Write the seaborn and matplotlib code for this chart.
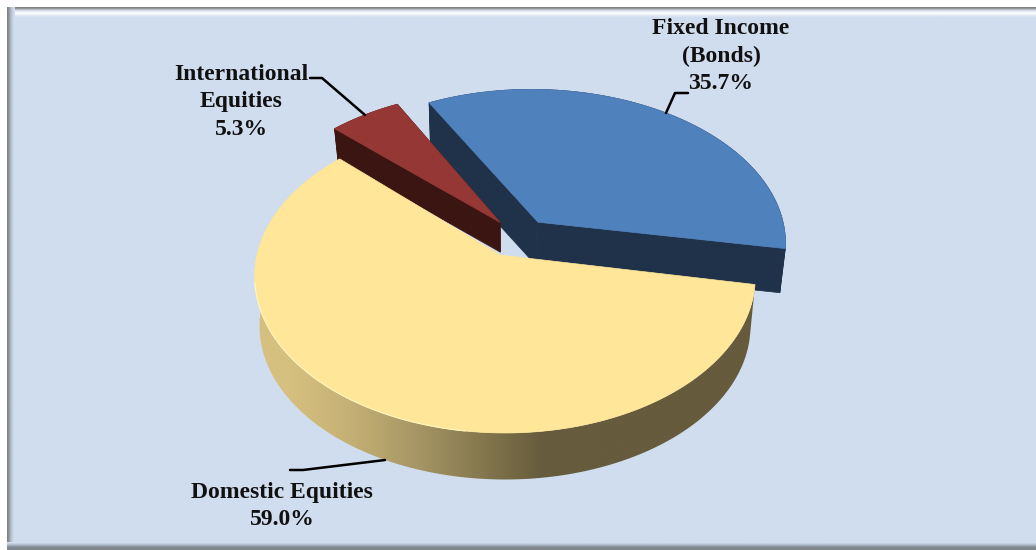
import numpy as np
import matplotlib
matplotlib.use('Agg')
import matplotlib.pyplot as plt
import seaborn as sns
from matplotlib.patches import Polygon

# data
categories = ['Fixed Income\n(Bonds)', 'International\nEquities', 'Domestic Equities']
values = [35.7, 5.3, 59.0]

top_colors = ['#4F81BD', '#953735', '#FFE699']
side_colors = ['#1F3249', '#3B1512', '#8C7F50']
back_color = '#D0DDEE'

sns.set_theme(style='white')
plt.rcParams['font.family'] = ['Liberation Serif', 'DejaVu Serif']

# projection of the pie plane to pixels
cx, cy = 505, 255
a, b, k = 248, 153.6, 0.137
start_angle = -10.8
offsets = [(0.125, 0.235), (-0.02, 0.218), (0, 0)]
apex_shift = [(0.012, -0.015), (0, 0), (-0.02, 0)]
radii = [1.03, 1.035, 1.0]
depths = [44, 29, 50]


def project(u, v, z, depth):
    s = (1 + k * v) * (1 + 0.02 * z)
    return cx + a * u / s, cy - b * v / s + z * depth


def arc_xy(i, t1, t2, z, n=200):
    t = np.radians(np.linspace(t1, t2, n))
    u = offsets[i][0] + radii[i] * np.cos(t)
    v = offsets[i][1] + radii[i] * np.sin(t)
    return np.column_stack(project(u, v, z, depths[i]))


def apex_xy(i, z):
    return np.array([project(offsets[i][0] + apex_shift[i][0], offsets[i][1] + apex_shift[i][1], z, depths[i])])


fig = plt.figure(figsize=(10.36, 5.5), dpi=100, facecolor='white')
ax = fig.add_axes([0, 0, 1, 1])

# pie only gives the angles of the slices, the tilted shape is built from them
wedges, _ = ax.pie(values, startangle=start_angle, colors=top_colors)
angles = [(w.theta1, w.theta2) for w in wedges]
for w in wedges:
    w.set_visible(False)

ax.set_aspect('auto')


def band(extent, colors, vertical):
    grad = np.array([matplotlib.colors.to_rgb(c) for c in colors])
    img = grad[:, None, :] if vertical else grad[None, :, :]
    ax.imshow(img, extent=extent, aspect='auto', interpolation='bilinear', zorder=1)


# panel with bevelled border
ax.add_patch(plt.Rectangle((7, 7), 1036, 540, fc=back_color, ec='none', zorder=0))
band((7, 1036, 17, 7), ['#808080', '#C8D2DD', '#F2F6FB', '#F6F9FD', '#D8E3F0'], True)
band((7, 15, 550, 7), ['#7F8387', '#98A0A9', '#B3BDCA', '#C6D2E0', '#D0DDEE'], False)
band((7, 1036, 550, 542), ['#D0DDEE', '#B7C3D2', '#969FAA', '#7F868E', '#7F868E'], True)

for i in [0, 1]:
    t1, t2 = angles[i]
    # side faces first, then top
    for t in [t2, t1]:
        edge = np.vstack([apex_xy(i, 0), arc_xy(i, t, t, 0, 1), arc_xy(i, t, t, 1, 1), apex_xy(i, 1)])
        ax.add_patch(Polygon(edge, fc=side_colors[i], ec=side_colors[i], lw=0.5, zorder=2 + i))
    rim = np.vstack([arc_xy(i, t1, t2, 0), arc_xy(i, t1, t2, 1)[::-1]])
    ax.add_patch(Polygon(rim, fc=side_colors[i], ec=side_colors[i], lw=0.5, zorder=2 + i))
    top = np.vstack([apex_xy(i, 0), arc_xy(i, t1, t2, 0)])
    ax.add_patch(Polygon(top, fc=top_colors[i], ec=top_colors[i], lw=0.5, zorder=2 + i))

# domestic equities, rim has a gradient
t1, t2 = angles[2]
rim = np.vstack([arc_xy(2, t1, t2, 0), arc_xy(2, t1, t2, 1)[::-1]])
rim_patch = Polygon(rim, fc='none', ec='none', zorder=4)
ax.add_patch(rim_patch)
rim_cols = [matplotlib.colors.to_rgb(c) for c in ['#D6C080', '#C4B074', '#A89766', '#877A50', '#675C3D', '#665B3C', '#665B3C', '#665B3C']]
rim_img = ax.imshow(np.array(rim_cols)[None, :, :], extent=(258, 760, 480, 150), aspect='auto',
                    interpolation='bilinear', zorder=4)
rim_img.set_clip_path(rim_patch)

top = np.vstack([apex_xy(2, 0), arc_xy(2, t1, t2, 0)])
ax.add_patch(Polygon(top, fc=top_colors[2], ec=top_colors[2], lw=0.5, zorder=5))
edge_light = arc_xy(2, 190, 262, 0)
ax.plot(edge_light[:, 0], edge_light[:, 1], color='#FFF6BE', lw=0.8, zorder=6)

# leader lines
ax.plot([310, 322, 365], [78, 78, 115], color='black', lw=1.8, zorder=7)
ax.plot([688, 675, 666], [93, 93, 113], color='black', lw=1.8, zorder=7)
ax.plot([385, 303, 290], [460, 470, 470], color='black', lw=1.8, zorder=7)

# labels
label_pos = [(721, 56), (241, 102), (282, 506)]
for name, val, (lx, ly) in zip(categories, values, label_pos):
    ax.text(lx, ly, f'{name}\n{val:.1f}%', ha='center', va='center', fontsize=17,
            fontweight='bold', color='#111111', linespacing=1.38, zorder=8)

ax.set_xlim(0, 1036)
ax.set_ylim(550, 0)
ax.axis('off')

fig.savefig('out.png', dpi=100)
